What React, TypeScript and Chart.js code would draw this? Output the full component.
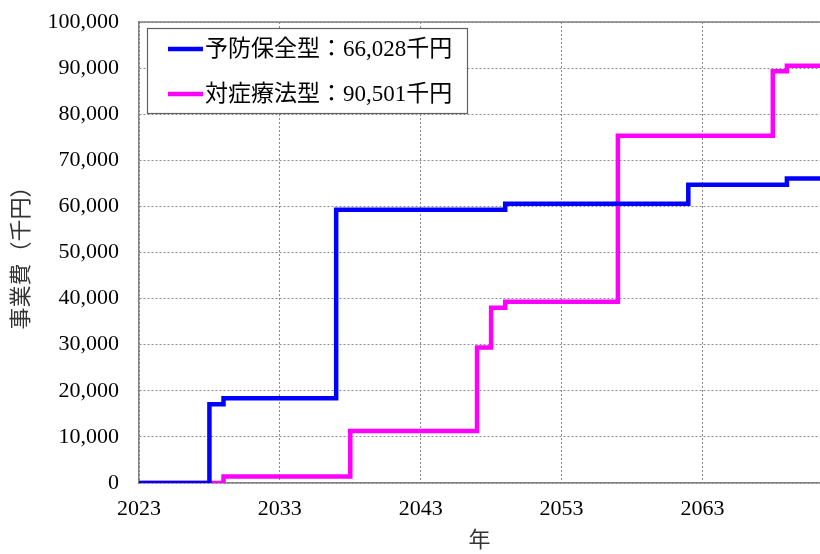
import React, { useEffect, useRef } from "react";
import { Chart, registerables } from "chart.js";

Chart.register(...registerables);

const X_MIN = 2023;
const X_MAX = 2071.35;
const xTickYears = [2023, 2033, 2043, 2053, 2063];
const yTickStep = 10000;
const Y_MAX = 100000;

const seriesLabels = ["予防保全型：66,028千円", "対症療法型：90,501千円"];
const seriesColors = ["#0000FF", "#FF00FF"];

const preventiveYears = [2023, 2028, 2029, 2037, 2049, 2062, 2069];
const preventiveValues = [0, 17100, 18400, 59300, 60600, 64700, 66028];

const reactiveYears = [2023, 2029, 2038, 2047, 2048, 2049, 2057, 2068, 2069];
const reactiveValues = [0, 1400, 11300, 29400, 38000, 39300, 75300, 89300, 90501];

const yAxisTitle = "事業費（千円）";
const xAxisTitle = "年";

const FONT = "'Liberation Serif', 'Noto Sans CJK JP', serif";

function toPoints(years: number[], values: number[]) {
  const pts = years.map((x, i) => ({ x, y: values[i] }));
  pts.push({ x: X_MAX, y: values[values.length - 1] });
  return pts;
}

const framePlugin = {
  id: "frame",
  afterDatasetsDraw(chart: any) {
    const { ctx, chartArea } = chart;
    ctx.save();
    ctx.strokeStyle = "#808080";
    ctx.lineWidth = 1.5;
    ctx.beginPath();
    ctx.moveTo(chartArea.left, chartArea.top);
    ctx.lineTo(chartArea.right, chartArea.top);
    ctx.stroke();
    ctx.restore();
  },
  afterDraw(chart: any) {
    const { ctx } = chart;
    const left = 147, top = 28, w = 320, h = 85;
    ctx.save();
    ctx.fillStyle = "#ffffff";
    ctx.fillRect(left, top, w, h);
    ctx.strokeStyle = "#606060";
    ctx.lineWidth = 1.2;
    ctx.strokeRect(left + 0.5, top + 0.5, w, h);
    const rows = [49, 94];
    chart.data.datasets.forEach((ds: any, i: number) => {
      const y = rows[i];
      ctx.strokeStyle = ds.borderColor;
      ctx.lineWidth = 4.5;
      ctx.beginPath();
      ctx.moveTo(168, y);
      ctx.lineTo(203, y);
      ctx.stroke();
      ctx.fillStyle = "#000";
      ctx.font = `23px ${FONT}`;
      ctx.textBaseline = "middle";
      ctx.textAlign = "left";
      ctx.fillText(ds.label, 205, y + 1);
    });
    ctx.restore();
  },
};

export default function App() {
  const ref = useRef<HTMLCanvasElement>(null);
  useEffect(() => {
    document.body.style.margin = "0";
    const chart = new Chart(ref.current!, {
      type: "line",
      data: {
        datasets: [
          {
            label: seriesLabels[0],
            data: toPoints(preventiveYears, preventiveValues),
            borderColor: seriesColors[0],
            backgroundColor: seriesColors[0],
            borderWidth: 4.5,
            pointRadius: 0,
            stepped: "before",
            fill: false,
          },
          {
            label: seriesLabels[1],
            data: toPoints(reactiveYears, reactiveValues),
            borderColor: seriesColors[1],
            backgroundColor: seriesColors[1],
            borderWidth: 4.5,
            pointRadius: 0,
            stepped: "before",
            fill: false,
          },
        ],
      },
      options: {
        animation: false,
        responsive: false,
        devicePixelRatio: 1,
        layout: { padding: { top: 22, right: 0, left: 0, bottom: 0 } },
        plugins: { legend: { display: false }, tooltip: { enabled: false } },
        scales: {
          x: {
            type: "linear",
            min: X_MIN,
            max: X_MAX,
            afterBuildTicks: (scale: any) => {
              scale.ticks = xTickYears.map((v) => ({ value: v }));
            },
            afterFit: (scale: any) => {
              scale.height = 71;
              scale.paddingLeft = 0;
              scale.paddingRight = 0;
            },
            ticks: {
              callback: (v: any) => String(v),
              color: "#000",
              font: { family: FONT, size: 22 },
              padding: 13,
              maxRotation: 0,
              autoSkip: false,
            },
            grid: {
              color: "#8a8a8a",
              drawTicks: false,
              lineWidth: 1,
            },
            border: { color: "#808080", width: 1.5, dash: [2, 2] },
            title: {
              display: true,
              text: xAxisTitle,
              color: "#333",
              font: { family: FONT, size: 22 },
              padding: { top: 0, bottom: 0 },
            },
          },
          y: {
            type: "linear",
            min: 0,
            max: Y_MAX,
            afterFit: (scale: any) => {
              scale.width = 139;
              scale.paddingTop = 0;
              scale.paddingBottom = 0;
            },
            ticks: {
              stepSize: yTickStep,
              callback: (v: any) => Number(v).toLocaleString("en-US"),
              color: "#000",
              font: { family: FONT, size: 22 },
              padding: 20,
            },
            grid: {
              color: "#8a8a8a",
              drawTicks: false,
              lineWidth: 1,
            },
            border: { color: "#808080", width: 1.5, dash: [2, 2] },
            title: {
              display: true,
              text: yAxisTitle,
              color: "#333",
              font: { family: FONT, size: 22 },
              padding: { top: 9, bottom: 0 },
            },
          },
        },
      },
      plugins: [framePlugin],
    } as any);
    return () => chart.destroy();
  }, []);
  return (
    <div style={{ position: "fixed", left: 0, top: 0, width: 820, height: 554, background: "#fff" }}>
      <canvas ref={ref} width={820} height={554} />
    </div>
  );
}
